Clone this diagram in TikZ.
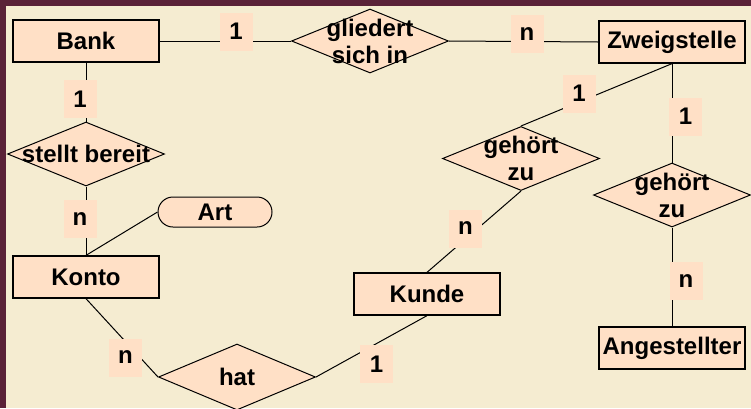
\documentclass[tikz,border=0pt]{standalone}
\usepackage{fontspec}
\setmainfont{Liberation Sans}
\usetikzlibrary{shapes.geometric}

\definecolor{framecol}{HTML}{5A2238}
\definecolor{paper}{HTML}{F5ECD1}
\definecolor{peach}{HTML}{FFE0C6}

\begin{document}
\begin{tikzpicture}[x=1pt, y=-1pt, font=\fontsize{24}{27}\selectfont\bfseries,
  entity/.style={draw, line width=1.3pt, fill=peach, minimum width=146, minimum height=42, inner sep=0pt},
  rel/.style={diamond, draw, line width=1pt, fill=peach, minimum width=157, minimum height=64, inner sep=0pt},
  reltext/.style={align=center, inner sep=0pt},
  card/.style={fill=peach, minimum width=33, minimum height=38, inner sep=0pt},
  link/.style={line width=1pt}]

% Background and frame
\useasboundingbox (0,0) rectangle (751,408);
\fill[paper] (0,0) rectangle (751,408);
\fill[framecol] (0,0) rectangle (6,408);
\fill[framecol] (0,0) rectangle (751,6);

% Entities
\node[entity] (bank) at (86,41) {Bank};
\node[entity] (zweig) at (672,42) {Zweigstelle};
\node[entity] (konto) at (86,277) {Konto};
\node[entity] (kunde) at (427,294) {Kunde};
\node[entity] (angest) at (672,348) {Angestellter};

% Attribute
\node[draw, line width=1pt, fill=peach, rounded corners=15, minimum width=114, minimum height=30, inner sep=0pt] (art) at (215,212) {Art};

% Relationships
\node[rel, label={[reltext]center:{gliedert\\sich in}}] (glied) at (370,41) {};
\node[rel, label={[reltext]center:{stellt bereit}}] (stellt) at (86,154) {};
\node[rel, label={[reltext]center:{gehört\\zu}}] (gzk) at (521,158.5) {};
\node[rel, label={[reltext]center:{gehört\\zu}}] (gza) at (672,195) {};
\node[rel, minimum height=66, label={[reltext]center:{hat}}] (hat) at (237,377) {};

% Lines
\draw[link] (bank) -- (glied.west);
\draw[link] (glied.east) -- (zweig.west);
\draw[link] (bank) -- (stellt.north);
\draw[link] (stellt.south) -- (konto);
\draw[link] (konto.north) -- (art.west);
\draw[link] (konto.south) -- (hat.west);
\draw[link] (hat.east) -- (kunde.south);
\draw[link] (kunde.north) -- (gzk.south);
\draw[link] (gzk.north) -- (zweig.south);
\draw[link] (zweig.south) -- (gza.north);
\draw[link] (gza.south) -- (angest.north);

% Cardinalities
\node[card] (c-bank-glied) at (236,31.5) {1};
\node[card] (c-glied-zweig) at (527,34) {n};
\node[card] (c-zweig-gzk) at (579,93.5) {1};
\node[card] (c-zweig-gza) at (685.5,116.5) {1};
\node[card] (c-bank-stellt) at (80,99) {1};
\node[card] (c-stellt-konto) at (80,219) {n};
\node[card] (c-konto-hat) at (125.5,357.5) {n};
\node[card] (c-hat-kunde) at (376.5,364) {1};
\node[card] (c-kunde-gzk) at (465.5,228.5) {n};
\node[card] (c-gza-angest) at (686,281) {n};

\end{tikzpicture}
\end{document}
